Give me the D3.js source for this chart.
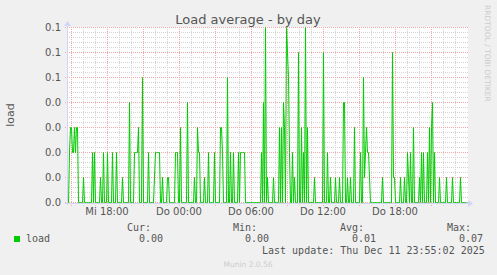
<!DOCTYPE html>
<html>
<head>
<meta charset="utf-8">
<script src="https://cdn.jsdelivr.net/npm/d3@7"></script>
<style>
    html, body { margin: 0; padding: 0; background: #f0f0f0; }
    svg { display: block; }
    text { font-family: 'DejaVu Sans', sans-serif; fill: #555; }
    .mono { font-family: 'DejaVu Sans Mono', monospace; font-size: 10px; }
</style>
</head>
<body>
<script>
// samples above zero (5 minute steps), everything else is 0
var sampleTimes = [
    'Mi 14:50', 'Mi 14:55', 'Mi 15:00', 'Mi 15:05', 'Mi 15:10', 'Mi 15:15', 'Mi 15:20', 'Mi 15:25', 'Mi 15:30',
    'Mi 16:00', 'Mi 16:45', 'Mi 16:55', 'Mi 17:25', 'Mi 17:40', 'Mi 18:00', 'Mi 18:25', 'Mi 18:45', 'Mi 19:15',
    'Mi 19:50', 'Mi 20:15', 'Mi 20:20', 'Mi 20:25', 'Mi 20:30', 'Mi 20:35', 'Mi 20:55', 'Mi 21:25', 'Mi 21:55',
    'Mi 22:00', 'Mi 22:05', 'Mi 22:10', 'Mi 22:15', 'Mi 22:20', 'Mi 22:35', 'Mi 23:00', 'Mi 23:05', 'Mi 23:40',
    'Mi 23:45', 'Mi 23:50',
    'Do 00:05', 'Do 00:40', 'Do 01:15', 'Do 01:30', 'Do 01:35', 'Do 01:40', 'Do 02:05', 'Do 02:25', 'Do 02:55',
    'Do 03:25', 'Do 03:30', 'Do 03:35', 'Do 04:00', 'Do 04:15', 'Do 04:30', 'Do 04:55', 'Do 05:05', 'Do 05:10',
    'Do 05:15', 'Do 05:20', 'Do 05:25', 'Do 06:50', 'Do 07:00', 'Do 07:10', 'Do 07:20', 'Do 07:50', 'Do 08:20',
    'Do 08:30', 'Do 08:40', 'Do 08:45', 'Do 08:55', 'Do 09:00', 'Do 09:05', 'Do 09:10', 'Do 09:25', 'Do 09:35',
    'Do 09:55', 'Do 10:10', 'Do 10:20', 'Do 10:30', 'Do 10:40', 'Do 11:15', 'Do 12:00', 'Do 12:20', 'Do 12:35',
    'Do 13:00', 'Do 13:20', 'Do 13:40', 'Do 13:45', 'Do 14:00', 'Do 14:15', 'Do 14:35', 'Do 15:05', 'Do 15:20',
    'Do 15:25', 'Do 15:30', 'Do 15:35', 'Do 15:40', 'Do 15:45', 'Do 15:50', 'Do 16:55', 'Do 17:45', 'Do 17:50',
    'Do 17:55', 'Do 18:25', 'Do 18:45', 'Do 19:00', 'Do 19:05', 'Do 19:15', 'Do 19:30', 'Do 20:00', 'Do 20:10',
    'Do 20:20', 'Do 20:40', 'Do 20:50', 'Do 21:00', 'Do 21:05', 'Do 21:15', 'Do 21:40', 'Do 22:15', 'Do 22:45',
    'Do 23:25'
];
var sampleLoads = [
    0.02, 0.03, 0.03, 0.02, 0.02, 0.03, 0.02, 0.03, 0.03,
    0.01, 0.02, 0.02, 0.01, 0.02, 0.02, 0.02, 0.02, 0.01,
    0.04, 0.02, 0.02, 0.02, 0.02, 0.03, 0.05, 0.02, 0.01,
    0.02, 0.02, 0.02, 0.02, 0.02, 0.01, 0.01, 0.01, 0.02,
    0.02, 0.02,
    0.03, 0.04, 0.01, 0.03, 0.02, 0.02, 0.01, 0.02, 0.02,
    0.03, 0.03, 0.02, 0.05, 0.02, 0.02, 0.02, 0.02, 0.02,
    0.02, 0.02, 0.02, 0.02, 0.04, 0.07, 0.01, 0.01, 0.03,
    0.03, 0.04, 0.03, 0.07, 0.06, 0.05, 0.02, 0.02, 0.01,
    0.06, 0.03, 0.02, 0.07, 0.03, 0.01, 0.06, 0.02, 0.01,
    0.01, 0.01, 0.04, 0.04, 0.01, 0.01, 0.03, 0.02, 0.05,
    0.01, 0.02, 0.03, 0.02, 0.02, 0.01, 0.01, 0.06, 0.01,
    0.01, 0.01, 0.01, 0.02, 0.01, 0.02, 0.03, 0.01, 0.02,
    0.02, 0.02, 0.03, 0.03, 0.04, 0.02, 0.01, 0.01, 0.01,
    0.01
];
var dayNames = ['So', 'Mo', 'Di', 'Mi', 'Do', 'Fr', 'Sa'];
var yTickValues = [0, 0.01, 0.02, 0.03, 0.04, 0.05, 0.06, 0.07];
var legendHeads = ['Cur:', 'Min:', 'Avg:', 'Max:'];
var lastUpdate = 'Last update: Thu Dec 11 23:55:02 2025';

var start = new Date(2025, 11, 10, 14, 40),
    end = new Date(2025, 11, 12, 0, 0),
    step = 5*60*1000,
    dayDate = {'Mi': 10, 'Do': 11};

var loadAt = {};
sampleTimes.forEach(function(s, i) {
    var p = s.split(' '), hm = p[1].split(':');
    loadAt[+new Date(2025, 11, dayDate[p[0]], +hm[0], +hm[1])] = sampleLoads[i];
});

var series = d3.range(+start, +end, step).map(function(t) {
    return {time: new Date(t), value: loadAt[t] || 0};
});

var svg = d3.select('body').append('svg')
        .attr('width', 497)
        .attr('height', 275),
    pLeft = 67, pRight = 467, pTop = 28, pBottom = 203,
    xScale = d3.scaleTime().domain([start, end]).range([pLeft, pRight]),
    yScale = d3.scaleLinear().domain([0, 0.07]).range([pBottom - 0.5, pTop - 0.5]),
    fmt = d3.format('.1f');

svg.append('rect')
    .attr('x', pLeft).attr('y', pTop - 1)
    .attr('width', pRight - pLeft + 1).attr('height', pBottom - pTop + 1)
    .attr('fill', '#fff');

var grid = svg.append('g').attr('stroke-dasharray', '1,1').attr('stroke-width', 1);

// minor grid
grid.selectAll('.ymin')
    .data(d3.range(0, 36).map(function(i) { return i*0.002; }))
    .enter().append('line')
    .attr('x1', pLeft).attr('x2', pRight + 1)
    .attr('y1', function(d) { return yScale(d); })
    .attr('y2', function(d) { return yScale(d); })
    .attr('stroke', '#d4d4d4');

grid.selectAll('.xmin')
    .data(d3.timeHour.every(1).range(start, end))
    .enter().append('line')
    .attr('x1', function(d) { return Math.round(xScale(d)) + 0.5; })
    .attr('x2', function(d) { return Math.round(xScale(d)) + 0.5; })
    .attr('y1', pTop - 1).attr('y2', pBottom + 3)
    .attr('stroke', '#d4d4d4');

// major grid
grid.selectAll('.ymaj')
    .data(yTickValues)
    .enter().append('line')
    .attr('x1', pLeft - 2).attr('x2', pRight + 1)
    .attr('y1', function(d) { return yScale(d); })
    .attr('y2', function(d) { return yScale(d); })
    .attr('stroke', '#f2a8a8');

grid.selectAll('.xmaj')
    .data(d3.timeHour.every(3).range(start, end))
    .enter().append('line')
    .attr('x1', function(d) { return Math.round(xScale(d)) + 0.5; })
    .attr('x2', function(d) { return Math.round(xScale(d)) + 0.5; })
    .attr('y1', pTop - 1).attr('y2', pBottom + 3)
    .attr('stroke', '#f2a8a8');

// y labels
svg.append('g').selectAll('text')
    .data(yTickValues)
    .enter().append('text')
    .attr('x', 61)
    .attr('y', function(d) { return yScale(d); })
    .attr('dy', '0.36em')
    .style('font-size', '10px')
    .style('text-anchor', 'end')
    .text(function(d) { return fmt(d); });

// x labels
svg.append('g').selectAll('text')
    .data(d3.timeHour.every(6).range(start, end))
    .enter().append('text')
    .attr('x', function(d) { return xScale(d); })
    .attr('y', 215)
    .style('font-size', '10px')
    .style('text-anchor', 'middle')
    .text(function(d) { return dayNames[d.getDay()] + ' ' + d3.timeFormat('%H:%M')(d); });

// data line
svg.append('path')
    .datum(series)
    .attr('fill', 'none')
    .attr('stroke', '#00cc00')
    .attr('stroke-width', 1)
    .attr('d', d3.line()
        .x(function(d) { return xScale(d.time) + 0.5; })
        .y(function(d) { return yScale(d.value); }));

// axes and arrows
var axisColor = '#cfd6f8';
svg.append('line')
    .attr('x1', pLeft - 2).attr('x2', pRight + 2)
    .attr('y1', pBottom + 0.5).attr('y2', pBottom + 0.5)
    .attr('stroke', axisColor);
svg.append('line')
    .attr('x1', pLeft + 0.5).attr('x2', pLeft + 0.5)
    .attr('y1', pBottom + 2).attr('y2', pTop - 4)
    .attr('stroke', axisColor);
svg.append('path')
    .attr('d', 'M' + (pRight + 1) + ' ' + (pBottom - 3) + 'L' + (pRight + 6) + ' ' + (pBottom + 0.5) + 'L' + (pRight + 1) + ' ' + (pBottom + 4) + 'Z')
    .attr('fill', axisColor);
svg.append('path')
    .attr('d', 'M' + (pLeft - 3) + ' ' + (pTop - 2) + 'L' + (pLeft + 0.5) + ' ' + (pTop - 7) + 'L' + (pLeft + 4) + ' ' + (pTop - 2) + 'Z')
    .attr('fill', axisColor);

// title and side texts
svg.append('text')
    .attr('x', 248).attr('y', 24)
    .style('font-size', '13px')
    .style('text-anchor', 'middle')
    .text('Load average - by day');

svg.append('text')
    .attr('transform', 'translate(14,115) rotate(-90)')
    .style('font-size', '11px')
    .style('text-anchor', 'middle')
    .text('load');

svg.append('text')
    .attr('transform', 'translate(485,5) rotate(90)')
    .style('font-size', '7.5px')
    .style('fill', '#ccc')
    .text('RRDTOOL / TOBI OETIKER');

svg.append('text')
    .attr('x', 248).attr('y', 267)
    .style('font-size', '7.5px')
    .style('fill', '#ccc')
    .style('text-anchor', 'middle')
    .text('Munin 2.0.56');

// legend
var values = series.map(function(d) { return d.value; }),
    stats = [values[values.length - 1], d3.min(values), d3.mean(values), d3.max(values)],
    headX = [127, 233, 340, 447];

svg.append('rect')
    .attr('x', 14).attr('y', 236)
    .attr('width', 6).attr('height', 6)
    .attr('fill', '#00cc00');

svg.append('text').attr('class', 'mono')
    .attr('x', 26).attr('y', 242)
    .text('load');

svg.append('g').selectAll('text')
    .data(legendHeads)
    .enter().append('text')
    .attr('class', 'mono')
    .attr('x', function(d, i) { return headX[i]; })
    .attr('y', 231)
    .text(function(d) { return d; });

svg.append('g').selectAll('text')
    .data(stats)
    .enter().append('text')
    .attr('class', 'mono')
    .attr('x', function(d, i) { return headX[i] + 12; })
    .attr('y', 242)
    .text(function(d) { return d.toFixed(2); });

svg.append('text').attr('class', 'mono')
    .attr('x', 262).attr('y', 254)
    .text(lastUpdate);
</script>
</body>
</html>
